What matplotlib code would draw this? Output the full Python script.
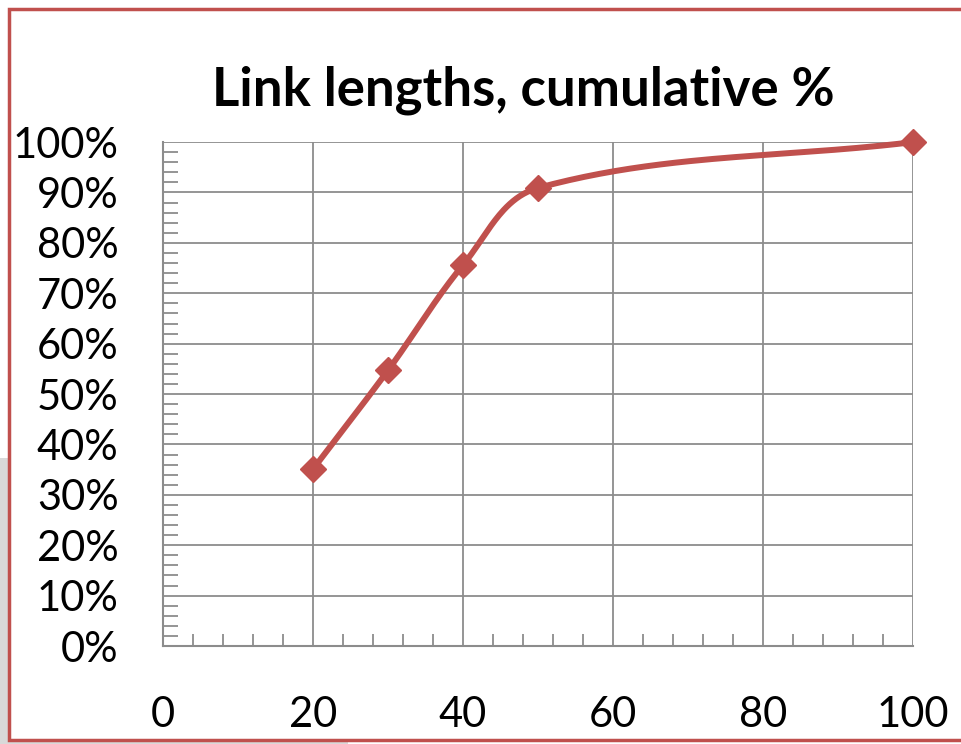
import numpy as np
import matplotlib.pyplot as plt
from matplotlib.patches import Rectangle
from matplotlib.ticker import MultipleLocator, FuncFormatter

# data
lengths = [20, 30, 40, 50, 100]
cum_pct = [35.1, 54.7, 75.6, 90.9, 100.0]

title = 'Link lengths, cumulative %'
red = '#C0504D'
grid_col = '#8C8C8C'

plt.rcParams['font.family'] = ['Lato', 'DejaVu Sans']


def smooth(xs, ys, sx=7.5, sy=5.04, k=0.35, n=50):
    # smoothed line like excel: bezier per segment, tangent from neighbours,
    # worked out in screen-ish units so uneven spacing doesn't overshoot
    P = np.column_stack([np.asarray(xs, float) * sx, np.asarray(ys, float) * sy])
    m = len(P)
    U = []
    for i in range(m):
        a = P[max(i - 1, 0)]
        b = P[min(i + 1, m - 1)]
        d = b - a
        U.append(d / np.hypot(*d))
    t = np.linspace(0, 1, n)[:, None]
    out = []
    for i in range(m - 1):
        p0, p3 = P[i], P[i + 1]
        L = np.hypot(*(p3 - p0))
        p1 = p0 + U[i] * L * k
        p2 = p3 - U[i + 1] * L * k
        b = (1 - t) ** 3 * p0 + 3 * (1 - t) ** 2 * t * p1 + 3 * (1 - t) * t ** 2 * p2 + t ** 3 * p3
        out.append(b)
    out = np.vstack(out)
    return out[:, 0] / sx, out[:, 1] / sy


fig = plt.figure(figsize=(9.61, 7.44), dpi=100)

# spreadsheet bits peeking out behind the chart
fig.patches.append(Rectangle((0, 0), 0.012, 0.385, transform=fig.transFigure,
                             facecolor='#D9D9D9', edgecolor='none', zorder=-5))
fig.patches.append(Rectangle((0, 0), 0.362, 0.006, transform=fig.transFigure,
                             facecolor='#D9D9D9', edgecolor='none', zorder=-5))
# chart border
fig.patches.append(Rectangle((0.009, 0.005), 1.2, 0.983, transform=fig.transFigure,
                             facecolor='white', edgecolor=red, lw=2.5, zorder=-4))

ax = fig.add_axes([0.1696, 0.1317, 0.7804, 0.6773])
ax.set_xlim(0, 100)
ax.set_ylim(0, 100)

cx, cy = smooth(lengths, cum_pct)
ax.plot(cx, cy, color=red, lw=4.3, solid_capstyle='round', zorder=3, clip_on=False)
ax.plot(lengths, cum_pct, ls='none', marker='D', ms=13, color=red, zorder=4, clip_on=False)

ax.xaxis.set_major_locator(MultipleLocator(20))
ax.xaxis.set_minor_locator(MultipleLocator(4))
ax.yaxis.set_major_locator(MultipleLocator(10))
ax.yaxis.set_minor_locator(MultipleLocator(2))
ax.yaxis.set_major_formatter(FuncFormatter(lambda v, p: '%d%%' % v))

ax.grid(True, which='major', color=grid_col, lw=1.3)
ax.tick_params(which='both', direction='in', color=grid_col, width=1.3)
ax.tick_params(which='major', length=0, labelsize=30, pad=32)
ax.tick_params(axis='x', which='major', pad=36)
ax.tick_params(which='minor', length=9)
ax.tick_params(axis='y', which='minor', length=11)
for s in ['top', 'right']:
    ax.spines[s].set_visible(False)
for s in ['left', 'bottom']:
    ax.spines[s].set_color(grid_col)
    ax.spines[s].set_linewidth(1.5)

fig.text(0.545, 0.879, title, ha='center', va='center', fontsize=38, fontweight='bold')

fig.savefig('out.png')
